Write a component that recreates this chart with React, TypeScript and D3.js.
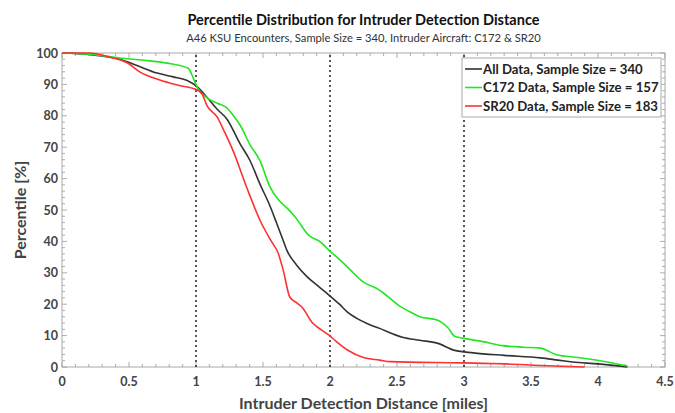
import React from "react";
import * as d3 from "d3";

// All data (sample 340)
const allX = [0, 0.2, 0.43, 0.56, 0.71, 0.83, 0.93, 1.01, 1.08, 1.16, 1.23, 1.33, 1.4, 1.48, 1.55, 1.6, 1.64, 1.68, 1.75, 1.83, 1.91, 1.99, 2.07, 2.13, 2.2, 2.28, 2.37, 2.54, 2.67, 2.8, 2.93, 3.07, 3.3, 3.57, 3.7, 3.81, 4.0, 4.22];
const allY = [100, 99.5, 98, 96, 93.6, 92.4, 91.3, 89.2, 86, 82, 79, 71, 66, 58, 51.5, 46, 41.5, 37, 32.5, 28.7, 25.8, 23, 20, 17.5, 15.5, 13.8, 12.3, 9.5, 8.5, 7.6, 5.3, 4.5, 3.7, 2.9, 2.2, 1.6, 1, 0];

// C172 (sample 157)
const c172X = [0, 0.2, 0.43, 0.65, 0.81, 0.94, 0.98, 1.01, 1.08, 1.16, 1.23, 1.28, 1.33, 1.4, 1.48, 1.55, 1.62, 1.68, 1.74, 1.84, 1.93, 1.99, 2.07, 2.15, 2.25, 2.35, 2.43, 2.51, 2.6, 2.67, 2.8, 2.88, 2.93, 2.99, 3.15, 3.29, 3.45, 3.57, 3.69, 3.85, 4.07, 4.22];
const c172Y = [100, 99.6, 98.4, 97.5, 96.6, 95.2, 92, 89, 85.8, 84, 82.5, 80, 77, 71, 65.5, 57.5, 53, 50.6, 47.8, 42, 39.8, 37.3, 34.3, 31, 27, 25, 22.5, 19.7, 17.5, 16, 15, 12.5, 9.8, 9.2, 8, 6.8, 6.3, 6, 3.9, 3, 1.6, 0.3];

// SR20 (sample 183)
const sr20X = [0, 0.2, 0.35, 0.49, 0.58, 0.73, 0.86, 1.01, 1.05, 1.08, 1.16, 1.2, 1.28, 1.38, 1.48, 1.57, 1.61, 1.65, 1.7, 1.75, 1.79, 1.87, 1.93, 1.99, 2.05, 2.13, 2.25, 2.37, 2.45, 2.99, 3.3, 3.57, 3.9];
const sr20Y = [100, 100, 98.8, 96.8, 94, 91.4, 89.8, 88.2, 86.6, 83.4, 79.5, 76, 68.5, 57, 46.5, 39.5, 36.6, 31, 22.3, 20.5, 19.1, 14, 12, 10.2, 8, 5.4, 3, 2.2, 1.7, 1.3, 1, 0.5, 0];

const xTicks = [0, 0.5, 1, 1.5, 2, 2.5, 3, 3.5, 4, 4.5];
const yTicks = [0, 10, 20, 30, 40, 50, 60, 70, 80, 90, 100];
const refLines = [1, 2, 3];

const series = [
  { name: "All Data, Sample Size = 340", xs: allX, ys: allY, color: "#333333" },
  { name: "C172 Data, Sample Size = 157", xs: c172X, ys: c172Y, color: "#22e622" },
  { name: "SR20 Data, Sample Size = 183", xs: sr20X, ys: sr20Y, color: "#ff3030" },
];

const width = 675;
const height = 413;
const margin = { top: 53, right: 10, bottom: 46, left: 62 };
const font = "Lato, 'Open Sans', sans-serif";

const App: React.FC = () => {
  const x = d3.scaleLinear().domain([0, 4.5]).range([margin.left, width - margin.right]);
  const y = d3.scaleLinear().domain([0, 100]).range([height - margin.bottom, margin.top]);
  const line = d3
    .line<[number, number]>()
    .x((d) => x(d[0]))
    .y((d) => y(d[1]))
    .curve(d3.curveMonotoneX);

  const minorX = d3.range(0, 4.5001, 0.1);
  const minorY = d3.range(0, 100.001, 2);
  const [x0, x1] = x.range();
  const [y0, y1] = y.range();

  return (
    <svg width={width} height={height} style={{ position: "absolute", left: 0, top: 0, background: "#fff" }}>
      {/* titles */}
      <text x={(x0 + x1) / 2} y={25} textAnchor="middle" fontFamily={font} fontWeight="bold" fontSize={14.5} fill="#111">
        Percentile Distribution for Intruder Detection Distance
      </text>
      <text x={(x0 + x1) / 2} y={42} textAnchor="middle" fontFamily={font} fontSize={11.2} fill="#333">
        A46 KSU Encounters, Sample Size = 340, Intruder Aircraft: C172 &amp; SR20
      </text>

      {/* frame */}
      <rect x={x0} y={y1} width={x1 - x0} height={y0 - y1} fill="none" stroke="#aaa" strokeWidth={1} />

      {/* minor / major ticks */}
      {minorX.map((t, i) => {
        const len = i % 5 === 0 ? 5 : 3;
        return (
          <g key={"mx" + i} stroke="#999" strokeWidth={0.8}>
            <line x1={x(t)} x2={x(t)} y1={y0} y2={y0 - len} />
            <line x1={x(t)} x2={x(t)} y1={y1} y2={y1 + len} />
          </g>
        );
      })}
      {minorY.map((t, i) => {
        const len = i % 5 === 0 ? 5 : 3;
        return (
          <g key={"my" + i} stroke="#999" strokeWidth={0.8}>
            <line x1={x0} x2={x0 + len} y1={y(t)} y2={y(t)} />
            <line x1={x1} x2={x1 - len} y1={y(t)} y2={y(t)} />
          </g>
        );
      })}

      {/* dotted reference lines */}
      {refLines.map((r) => (
        <line key={r} x1={x(r)} x2={x(r)} y1={y0} y2={y1} stroke="#222" strokeWidth={1.5} strokeDasharray="2,3" />
      ))}

      {/* tick labels */}
      {xTicks.map((t) => (
        <text key={"xt" + t} x={x(t)} y={y0 + 19} textAnchor="middle" fontFamily={font} fontWeight="bold" fontSize={12.5} fill="#444">
          {t}
        </text>
      ))}
      {yTicks.map((t) => (
        <text key={"yt" + t} x={x0 - 4} y={y(t) + 4.5} textAnchor="end" fontFamily={font} fontWeight="bold" fontSize={12.5} fill="#444">
          {t}
        </text>
      ))}

      {/* axis labels */}
      <text x={(x0 + x1) / 2} y={409} textAnchor="middle" fontFamily={font} fontWeight="bold" fontSize={16} fill="#444">
        Intruder Detection Distance [miles]
      </text>
      <text
        transform={`translate(26, ${(y0 + y1) / 2}) rotate(-90)`}
        textAnchor="middle"
        fontFamily={font}
        fontWeight="bold"
        fontSize={16}
        fill="#444"
      >
        Percentile [%]
      </text>

      {/* curves */}
      {series.map((s) => (
        <path
          key={s.name}
          d={line(s.xs.map((v, i) => [v, s.ys[i]] as [number, number])) || ""}
          fill="none"
          stroke={s.color}
          strokeWidth={1.6}
          strokeLinejoin="round"
        />
      ))}

      {/* legend */}
      <g>
        <rect x={462} y={58} width={199} height={59} fill="#fff" stroke="#aaa" strokeWidth={1} />
        {series.map((s, i) => (
          <g key={"lg" + i}>
            <line x1={465} x2={482} y1={69 + i * 18.5} y2={69 + i * 18.5} stroke={s.color} strokeWidth={1.6} />
            <text x={483} y={73.5 + i * 18.5} fontFamily={font} fontWeight="bold" fontSize={13.2} fill="#222">
              {s.name}
            </text>
          </g>
        ))}
      </g>
    </svg>
  );
};

export default App;
